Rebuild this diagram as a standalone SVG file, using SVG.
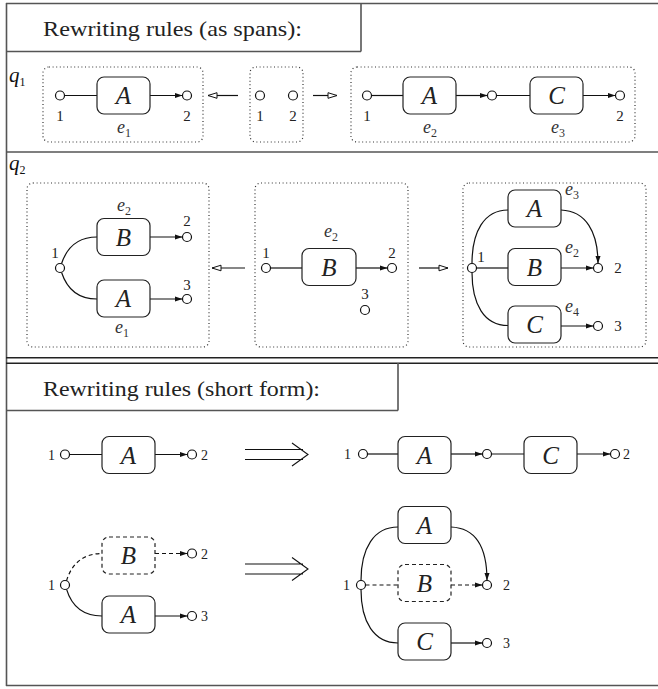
<svg xmlns="http://www.w3.org/2000/svg" width="658" height="689" viewBox="0 0 658 689">
<style>
.frame{stroke:#555;stroke-width:1.6;fill:none}
.dbl{stroke:#222;stroke-width:1.4;fill:none}
.dot{fill:none;stroke:#333;stroke-width:1.2;stroke-dasharray:1 2.6}
.box{fill:#fff;stroke:#222;stroke-width:1.2}
.dbox{fill:#fff;stroke:#222;stroke-width:1.2;stroke-dasharray:4 3}
.c{fill:#fff;stroke:#111;stroke-width:1.2}
.ln{fill:none;stroke:#111;stroke-width:1.2}
.dl{fill:none;stroke:#111;stroke-width:1.2;stroke-dasharray:4 3}
.ar{marker-end:url(#ah)}
.oa{marker-end:url(#oh)}
.hd{font-family:"Liberation Serif","Times New Roman",serif;font-size:21px;fill:#222}
.big{font-family:"Liberation Serif","Times New Roman",serif;font-style:italic;font-size:25px;fill:#222;text-anchor:middle}
.num{font-family:"Liberation Serif","Times New Roman",serif;font-size:15px;fill:#222;text-anchor:middle}
.sn{font-family:"Liberation Serif","Times New Roman",serif;font-size:14px;fill:#222}
.e{font-family:"Liberation Serif","Times New Roman",serif;font-style:italic;font-size:18px;fill:#333}
.sub{font-style:normal;font-size:12px}
.q{font-family:"Liberation Serif","Times New Roman",serif;font-style:italic;font-size:21px;fill:#111}
.da{fill:none;stroke:#111;stroke-width:1.1}
</style>
<defs>
<marker id="ah" markerWidth="9" markerHeight="7" refX="8" refY="3.5" orient="auto" markerUnits="userSpaceOnUse"><path d="M0,0.8 L8,3.5 L0,6.2 z" fill="#111"/></marker>
<marker id="oh" markerWidth="11" markerHeight="8" refX="10" refY="4" orient="auto" markerUnits="userSpaceOnUse"><path d="M1,1.2 L10,4 L1,6.8 z" fill="#fff" stroke="#111" stroke-width="1"/></marker>
</defs>

<g id="frame">
<line class="frame" x1="6.5" y1="3" x2="6.5" y2="686"/>
<line class="frame" x1="6" y1="3.5" x2="658" y2="3.5"/>
<line class="frame" x1="6" y1="685.5" x2="658" y2="685.5"/>
<line class="frame" x1="6" y1="51.5" x2="361" y2="51.5"/>
<line class="frame" x1="361" y1="3" x2="361" y2="51.5"/>
<line class="frame" x1="6" y1="152" x2="658" y2="152"/>
<line class="dbl" x1="6" y1="357.7" x2="658" y2="357.7"/>
<line class="dbl" x1="6" y1="363.3" x2="658" y2="363.3"/>
<line class="frame" x1="6" y1="410.5" x2="398" y2="410.5"/>
<line class="frame" x1="398" y1="363" x2="398" y2="410.5"/>
</g>
<g id="titles">
<text class="hd" x="43" y="36" textLength="259" lengthAdjust="spacingAndGlyphs">Rewriting rules (as spans):</text>
<text class="hd" x="43" y="396" textLength="277" lengthAdjust="spacingAndGlyphs">Rewriting rules (short form):</text>
<text class="q" x="9" y="82">q<tspan class="sub" font-size="14" dy="4">1</tspan></text>
<text class="q" x="9" y="170">q<tspan class="sub" font-size="14" dy="4">2</tspan></text>
</g>

<g id="connectors">
<line class="ln" x1="64.5" y1="95.5" x2="97" y2="95.5"/>
<line class="ln ar" x1="150" y1="95.5" x2="182.5" y2="95.5"/>
<line class="ln oa" x1="238" y1="95.5" x2="208" y2="95.5"/>
<line class="ln oa" x1="313" y1="95.5" x2="337" y2="95.5"/>
<line class="ln" x1="371.5" y1="95.5" x2="403" y2="95.5"/>
<line class="ln ar" x1="456" y1="95.5" x2="487.5" y2="95.5"/>
<line class="ln" x1="496.5" y1="95.5" x2="530" y2="95.5"/>
<line class="ln ar" x1="583" y1="95.5" x2="615.5" y2="95.5"/>
<path class="ln" d="M61.5,263.8 C67,247 79,237 97,237"/>
<path class="ln" d="M61.5,272.2 C67,289 79,299 97,299"/>
<line class="ln ar" x1="150" y1="237" x2="182.5" y2="237"/>
<line class="ln ar" x1="150" y1="299" x2="182.5" y2="299"/>
<line class="ln oa" x1="245" y1="268" x2="212" y2="268"/>
<line class="ln" x1="270.5" y1="268" x2="302" y2="268"/>
<line class="ln ar" x1="356" y1="268" x2="387.5" y2="268"/>
<line class="ln oa" x1="419" y1="268" x2="448" y2="268"/>
<path class="ln" d="M472,263.5 C472,232 484,210 508,210"/>
<path class="ln" d="M472,272.5 C472,304 484,325.5 508,325.5"/>
<line class="ln" x1="476.5" y1="268" x2="508" y2="268"/>
<path class="ln ar" d="M561,210 C586,211 598,232 598,263.5"/>
<line class="ln ar" x1="561" y1="268" x2="593.5" y2="268"/>
<line class="ln ar" x1="561" y1="326" x2="593.5" y2="326"/>
<line class="ln" x1="69.5" y1="454.5" x2="102" y2="454.5"/>
<line class="ln ar" x1="155" y1="454.5" x2="187.5" y2="454.5"/>
<line class="ln" x1="367.5" y1="454" x2="398" y2="454"/>
<line class="ln ar" x1="451" y1="454" x2="482.5" y2="454"/>
<line class="ln" x1="491.5" y1="454" x2="524" y2="454"/>
<line class="ln ar" x1="577" y1="454" x2="610.5" y2="454"/>
<path class="dl" d="M66.5,580.8 C71,566 81,553.5 102,553.5"/>
<path class="ln" d="M66.5,589.2 C71,604 81,616 102,616"/>
<line class="dl ar" x1="155" y1="553.5" x2="187.5" y2="553.5"/>
<line class="ln ar" x1="155" y1="616" x2="187.5" y2="616"/>
<path class="ln" d="M361,580.5 C361,548 374,527 398,527"/>
<path class="ln" d="M361,589.5 C361,622 374,643 398,643"/>
<line class="dl" x1="365.5" y1="585" x2="398" y2="585"/>
<path class="ln ar" d="M451,527 C476,528 487,548 487,580.5"/>
<line class="dl ar" x1="451" y1="585" x2="482.5" y2="585"/>
<line class="ln ar" x1="451" y1="643" x2="482.5" y2="643"/>
<path class="da" d="M245,449.5 H303 M245,459.5 H303 M292,443 L308,454.5 L292,466"/>
<path class="da" d="M245,564 H303 M245,574 H303 M292,557.5 L308,569 L292,580.5"/>
</g>

<g id="q1-left">
<rect class="dot" x="43" y="67" width="160" height="75" rx="6"/>
<g id="q1l-n1"><circle class="c" cx="60" cy="95.5" r="4.5"/><text class="num" x="60" y="121">1</text></g>
<g id="q1l-A"><rect class="box" x="97" y="77" width="53" height="37" rx="7"/><text class="big" x="123.5" y="104">A</text><text class="e" x="124" y="133" text-anchor="middle">e<tspan class="sub" dy="4">1</tspan></text></g>
<g id="q1l-n2"><circle class="c" cx="187" cy="95.5" r="4.5"/><text class="num" x="187" y="121">2</text></g>
</g>
<g id="q1-mid">
<rect class="dot" x="250" y="67" width="53" height="75" rx="6"/>
<g id="q1m-n1"><circle class="c" cx="260" cy="95.5" r="4.5"/><text class="num" x="260" y="121">1</text></g>
<g id="q1m-n2"><circle class="c" cx="293" cy="95.5" r="4.5"/><text class="num" x="293" y="121">2</text></g>
</g>
<g id="q1-right">
<rect class="dot" x="351" y="67" width="284" height="75" rx="6"/>
<g id="q1r-n1"><circle class="c" cx="367" cy="95.5" r="4.5"/><text class="num" x="367" y="121">1</text></g>
<g id="q1r-A"><rect class="box" x="403" y="77" width="53" height="37" rx="7"/><text class="big" x="429.5" y="104">A</text><text class="e" x="430" y="133" text-anchor="middle">e<tspan class="sub" dy="4">2</tspan></text></g>
<g id="q1r-nm"><circle class="c" cx="492" cy="95.5" r="4.5"/></g>
<g id="q1r-C"><rect class="box" x="530" y="77" width="53" height="37" rx="7"/><text class="big" x="556.5" y="104">C</text><text class="e" x="558" y="133" text-anchor="middle">e<tspan class="sub" dy="4">3</tspan></text></g>
<g id="q1r-n2"><circle class="c" cx="620" cy="95.5" r="4.5"/><text class="num" x="620" y="121">2</text></g>
</g>

<g id="q2-left">
<rect class="dot" x="27" y="183" width="182" height="164" rx="6"/>
<g id="q2l-n1"><circle class="c" cx="60" cy="268" r="4.5"/><text class="num" x="55" y="258">1</text></g>
<g id="q2l-B"><rect class="box" x="97" y="218.5" width="53" height="37" rx="7"/><text class="big" x="123.5" y="245.5">B</text><text class="e" x="124" y="211" text-anchor="middle">e<tspan class="sub" dy="4">2</tspan></text></g>
<g id="q2l-A"><rect class="box" x="97" y="280" width="53" height="37" rx="7"/><text class="big" x="123.5" y="307">A</text><text class="e" x="122" y="333" text-anchor="middle">e<tspan class="sub" dy="4">1</tspan></text></g>
<g id="q2l-n2"><circle class="c" cx="187" cy="237" r="4.5"/><text class="num" x="187" y="226">2</text></g>
<g id="q2l-n3"><circle class="c" cx="187" cy="299" r="4.5"/><text class="num" x="187" y="290">3</text></g>
</g>
<g id="q2-mid">
<rect class="dot" x="255" y="183" width="153" height="164" rx="6"/>
<g id="q2m-n1"><circle class="c" cx="266" cy="268" r="4.5"/><text class="num" x="266" y="258">1</text></g>
<g id="q2m-B"><rect class="box" x="302" y="248.5" width="54" height="37" rx="7"/><text class="big" x="329" y="275.5">B</text><text class="e" x="331" y="237" text-anchor="middle">e<tspan class="sub" dy="4">2</tspan></text></g>
<g id="q2m-n2"><circle class="c" cx="392" cy="268" r="4.5"/><text class="num" x="392" y="258">2</text></g>
<g id="q2m-n3"><circle class="c" cx="365" cy="310" r="4.5"/><text class="num" x="365" y="299">3</text></g>
</g>
<g id="q2-right">
<rect class="dot" x="463" y="183" width="183" height="164" rx="6"/>
<g id="q2r-n1"><circle class="c" cx="472" cy="268" r="4.5"/><text class="num" x="481" y="262">1</text></g>
<g id="q2r-A"><rect class="box" x="508" y="190" width="53" height="37" rx="7"/><text class="big" x="534.5" y="217">A</text><text class="e" x="565" y="195">e<tspan class="sub" dy="4">3</tspan></text></g>
<g id="q2r-B"><rect class="box" x="508" y="248.5" width="53" height="37" rx="7"/><text class="big" x="534.5" y="275.5">B</text><text class="e" x="565" y="253">e<tspan class="sub" dy="4">2</tspan></text></g>
<g id="q2r-C"><rect class="box" x="508" y="306" width="53" height="37" rx="7"/><text class="big" x="534.5" y="333">C</text><text class="e" x="565" y="312">e<tspan class="sub" dy="4">4</tspan></text></g>
<g id="q2r-n2"><circle class="c" cx="598" cy="268" r="4.5"/><text class="num" x="618" y="273">2</text></g>
<g id="q2r-n3"><circle class="c" cx="598" cy="326" r="4.5"/><text class="num" x="618" y="331">3</text></g>
</g>

<g id="s1-left">
<g id="s1l-n1"><circle class="c" cx="65" cy="454.5" r="4.5"/><text class="sn" x="55" y="459.5" text-anchor="end">1</text></g>
<g id="s1l-A"><rect class="box" x="102" y="436.5" width="53" height="37" rx="7"/><text class="big" x="128.5" y="463.5">A</text></g>
<g id="s1l-n2"><circle class="c" cx="192" cy="454.5" r="4.5"/><text class="sn" x="201" y="459.5">2</text></g>
</g>
<g id="s1-right">
<g id="s1r-n1"><circle class="c" cx="363" cy="454" r="4.5"/><text class="sn" x="351" y="459" text-anchor="end">1</text></g>
<g id="s1r-A"><rect class="box" x="398" y="436.5" width="53" height="37" rx="7"/><text class="big" x="424.5" y="463.5">A</text></g>
<g id="s1r-nm"><circle class="c" cx="487" cy="454" r="4.5"/></g>
<g id="s1r-C"><rect class="box" x="524" y="436.5" width="53" height="37" rx="7"/><text class="big" x="550.5" y="463.5">C</text></g>
<g id="s1r-n2"><circle class="c" cx="615" cy="454" r="4.5"/><text class="sn" x="623" y="459">2</text></g>
</g>
<g id="s2-left">
<g id="s2l-n1"><circle class="c" cx="65" cy="585" r="4.5"/><text class="sn" x="55" y="590" text-anchor="end">1</text></g>
<g id="s2l-B"><rect class="dbox" x="102" y="537" width="53" height="37" rx="7"/><text class="big" x="128.5" y="564">B</text></g>
<g id="s2l-A"><rect class="box" x="102" y="596" width="53" height="37" rx="7"/><text class="big" x="128.5" y="623">A</text></g>
<g id="s2l-n2"><circle class="c" cx="192" cy="553.5" r="4.5"/><text class="sn" x="201" y="558.5">2</text></g>
<g id="s2l-n3"><circle class="c" cx="192" cy="616" r="4.5"/><text class="sn" x="201" y="621">3</text></g>
</g>
<g id="s2-right">
<g id="s2r-n1"><circle class="c" cx="361" cy="585" r="4.5"/><text class="sn" x="350" y="590" text-anchor="end">1</text></g>
<g id="s2r-A"><rect class="box" x="398" y="506.5" width="53" height="37" rx="7"/><text class="big" x="424.5" y="533.5">A</text></g>
<g id="s2r-B"><rect class="dbox" x="398" y="564.5" width="53" height="37" rx="7"/><text class="big" x="424.5" y="591.5">B</text></g>
<g id="s2r-C"><rect class="box" x="398" y="623" width="53" height="37" rx="7"/><text class="big" x="424.5" y="650">C</text></g>
<g id="s2r-n2"><circle class="c" cx="487" cy="585" r="4.5"/><text class="sn" x="503" y="590">2</text></g>
<g id="s2r-n3"><circle class="c" cx="487" cy="643" r="4.5"/><text class="sn" x="503" y="648">3</text></g>
</g>
</svg>
